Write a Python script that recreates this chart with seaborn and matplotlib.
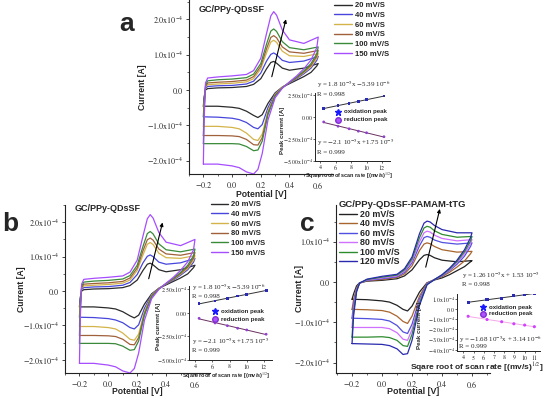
import numpy as np
import pandas as pd
import matplotlib
matplotlib.use('Agg')
import matplotlib.pyplot as plt
import seaborn as sns
from matplotlib.lines import Line2D

sns.set_theme(style='ticks')
plt.rcParams['font.family'] = ['Liberation Sans', 'DejaVu Sans']
plt.rcParams['mathtext.fontset'] = 'stix'

# ---------------- data (currents in units of 1e-4 A) ----------------
rates_ab = ['20 mV/S', '40 mV/S', '60 mV/S', '80 mV/S', '100 mV/S', '150 mV/S']
rates_c = ['20 mV/S', '40 mV/S', '60 mV/S', '80 mV/S', '100 mV/S', '120 mV/S']
colors_ab = ['#2b2b2b', '#4646dc', '#d4b44a', '#a0603a', '#3a8a3a', '#a64dff']
colors_c = ['#222222', '#a8652e', '#5050e0', '#d070ff', '#2e8b2e', '#2a2ab0']

E_fwd_ab = [-0.2, -0.195, -0.185, -0.17, -0.1, 0.0, 0.1, 0.15, 0.2, 0.24, 0.27, 0.29, 0.31, 0.35, 0.4, 0.5, 0.6]
E_rev_ab = [0.6, 0.59, 0.55, 0.5, 0.45, 0.4, 0.35, 0.3, 0.25, 0.21, 0.18, 0.15, 0.1, 0.05, 0.0, -0.1, -0.2]

ab_fwd_20 = [-0.46, -0.2, 0.0, 0.04, 0.06, 0.07, 0.1, 0.16, 0.32, 0.6, 0.78, 0.81, 0.76, 0.62, 0.56, 0.62, 0.75]
ab_rev_20 = [0.75, 0.68, 0.5, 0.38, 0.28, 0.18, 0.08, -0.08, -0.38, -0.7, -0.78, -0.72, -0.6, -0.52, -0.49, -0.46, -0.46]
ab_fwd_40 = [-0.76, -0.3, 0.05, 0.1, 0.12, 0.13, 0.17, 0.25, 0.48, 0.82, 1.01, 1.05, 1.0, 0.84, 0.78, 0.82, 0.95]
ab_rev_40 = [0.95, 0.84, 0.62, 0.46, 0.32, 0.2, 0.08, -0.1, -0.5, -0.98, -1.1, -1.06, -0.92, -0.84, -0.8, -0.77, -0.76]
ab_fwd_60 = [-1.03, -0.4, 0.08, 0.15, 0.17, 0.19, 0.23, 0.32, 0.6, 1.05, 1.36, 1.41, 1.35, 1.1, 0.97, 0.95, 1.03]
ab_rev_60 = [1.03, 0.9, 0.66, 0.49, 0.34, 0.21, 0.08, -0.12, -0.6, -1.25, -1.43, -1.4, -1.22, -1.1, -1.06, -1.03, -1.03]
ab_fwd_80 = [-1.29, -0.5, 0.1, 0.2, 0.22, 0.24, 0.28, 0.38, 0.67, 1.17, 1.49, 1.54, 1.48, 1.22, 1.08, 1.04, 1.12]
ab_rev_80 = [1.12, 0.96, 0.7, 0.51, 0.35, 0.21, 0.07, -0.14, -0.65, -1.35, -1.56, -1.55, -1.4, -1.32, -1.3, -1.29, -1.29]
ab_fwd_100 = [-1.52, -0.6, 0.14, 0.26, 0.29, 0.31, 0.35, 0.45, 0.75, 1.3, 1.67, 1.73, 1.66, 1.37, 1.2, 1.14, 1.22]
ab_rev_100 = [1.22, 1.03, 0.75, 0.54, 0.37, 0.22, 0.06, -0.17, -0.7, -1.45, -1.7, -1.72, -1.6, -1.53, -1.52, -1.52, -1.52]
ab_fwd_150 = [-2.1, -0.9, 0.2, 0.34, 0.37, 0.4, 0.44, 0.55, 0.9, 1.6, 2.1, 2.22, 2.12, 1.7, 1.42, 1.32, 1.5]
ab_rev_150 = [1.5, 1.2, 0.85, 0.6, 0.4, 0.23, 0.05, -0.22, -0.85, -1.8, -2.25, -2.38, -2.32, -2.2, -2.15, -2.1, -2.1]

E_fwd_c = [-0.2, -0.19, -0.17, -0.15, -0.1, 0.0, 0.1, 0.15, 0.2, 0.25, 0.28, 0.3, 0.32, 0.35, 0.4, 0.5, 0.6]
E_rev_c = [0.6, 0.59, 0.55, 0.5, 0.45, 0.4, 0.35, 0.3, 0.25, 0.2, 0.17, 0.14, 0.1, 0.05, 0.0, -0.1, -0.2]

c_fwd_20 = [-0.43, -0.3, -0.1, -0.02, 0.02, 0.04, 0.08, 0.15, 0.3, 0.55, 0.66, 0.68, 0.66, 0.6, 0.54, 0.5, 0.53]
c_rev_20 = [0.53, 0.5, 0.38, 0.28, 0.18, 0.1, 0.05, -0.02, -0.25, -0.6, -0.72, -0.68, -0.58, -0.5, -0.47, -0.44, -0.43]
c_fwd_40 = [-0.68, -0.45, -0.15, -0.03, 0.03, 0.06, 0.11, 0.2, 0.4, 0.78, 0.94, 0.97, 0.95, 0.88, 0.8, 0.74, 0.76]
c_rev_40 = [0.76, 0.7, 0.52, 0.37, 0.24, 0.13, 0.06, -0.03, -0.35, -0.85, -1.03, -0.98, -0.85, -0.75, -0.71, -0.69, -0.68]
c_fwd_60 = [-0.9, -0.55, -0.18, -0.03, 0.04, 0.08, 0.13, 0.24, 0.47, 0.9, 1.1, 1.13, 1.11, 1.04, 0.98, 0.94, 0.97]
c_rev_60 = [0.97, 0.88, 0.64, 0.44, 0.28, 0.15, 0.06, -0.04, -0.42, -1.05, -1.28, -1.24, -1.08, -0.97, -0.93, -0.91, -0.9]
c_fwd_80 = [-1.13, -0.65, -0.2, -0.03, 0.05, 0.1, 0.15, 0.27, 0.52, 1.0, 1.22, 1.26, 1.24, 1.16, 1.08, 1.02, 1.05]
c_rev_80 = [1.05, 0.95, 0.7, 0.48, 0.3, 0.16, 0.06, -0.05, -0.48, -1.18, -1.45, -1.42, -1.26, -1.16, -1.13, -1.13, -1.13]
c_fwd_100 = [-1.37, -0.75, -0.22, -0.03, 0.06, 0.12, 0.17, 0.3, 0.57, 1.1, 1.34, 1.38, 1.36, 1.27, 1.18, 1.11, 1.13]
c_rev_100 = [1.13, 1.02, 0.75, 0.51, 0.32, 0.17, 0.06, -0.06, -0.52, -1.3, -1.6, -1.58, -1.45, -1.38, -1.36, -1.37, -1.37]
c_fwd_120 = [-1.53, -0.85, -0.25, -0.03, 0.07, 0.14, 0.19, 0.33, 0.62, 1.2, 1.46, 1.51, 1.49, 1.4, 1.3, 1.22, 1.22]
c_rev_120 = [1.22, 1.1, 0.8, 0.54, 0.34, 0.18, 0.06, -0.07, -0.58, -1.45, -1.78, -1.8, -1.66, -1.58, -1.55, -1.54, -1.53]

# inset data: square root of scan rate vs peak current (1e-4 A)
sqrt_ab = [4.47, 6.32, 7.75, 8.94, 10.0, 12.25]
ox_ab = [0.97, 1.23, 1.46, 1.76, 1.94, 2.35]
red_ab = [-0.6, -1.09, -1.38, -1.65, -1.83, -2.28]
sqrt_c = [4.47, 6.32, 7.75, 8.94, 10.0, 10.95]
ox_c = [0.7, 0.92, 1.09, 1.31, 1.41, 1.57]
red_c = [-0.7, -1.02, -1.24, -1.44, -1.57, -1.73]

main_yticks_ab = [-2e-4, -1e-4, 0, 1e-4, 2e-4]
main_ylabels_ab = [r'$-2.0\mathrm{x}10^{-4}$', r'$-1.0\mathrm{x}10^{-4}$', r'$0.0$',
                   r'$1.0\mathrm{x}10^{-4}$', r'$2.0\mathrm{x}10^{-4}$']
main_yticks_c = [-2e-4, -1e-4, 0, 1e-4]
main_ylabels_c = [r'$-2.0\mathrm{x}10^{-4}$', r'$-1.0\mathrm{x}10^{-4}$', r'$0.0$', r'$1.0\mathrm{x}10^{-4}$']
main_xticks = [-0.2, 0.0, 0.2, 0.4, 0.6]
main_xlabels = [r'$-0.2$', r'$0.0$', r'$0.2$', r'$0.4$', r'$0.6$']
ins_yticks_ab = [-5e-4, -2.5e-4, 0, 2.5e-4]
ins_ylabels_ab = [r'$-5.00\mathrm{x}10^{-4}$', r'$-2.50\mathrm{x}10^{-4}$', r'$0.00$', r'$2.50\mathrm{x}10^{-4}$']
ins_yticks_c = [-4e-4, -3e-4, -2e-4, -1e-4, 0, 1e-4]
ins_ylabels_c = [r'$-4.0\mathrm{x}10^{-4}$', r'$-3.0\mathrm{x}10^{-4}$', r'$-2.0\mathrm{x}10^{-4}$',
                 r'$-1.0\mathrm{x}10^{-4}$', r'$0.0$', r'$1.0\mathrm{x}10^{-4}$']
inset_xlabel = r'Sqare root of scan rate [(mv/s)$^{1/2}$]'

# ---------------- helpers ----------------
W, H = 550, 396
fig = plt.figure(figsize=(5.5, 3.96), dpi=100)


def rect(x0, y0, x1, y1):
    return [x0 / W, 1 - y1 / H, (x1 - x0) / W, (y1 - y0) / H]


def fx(x):
    return x / W


def fy(y):
    return 1 - y / H


def cv_frame(labels, efwd, erev, fwds, revs):
    rows = []
    for lab, f, r in zip(labels, fwds, revs):
        E = list(efwd) + list(erev)
        I = [v * 1e-4 for v in list(f) + list(r)]
        for k, (e, i) in enumerate(zip(E, I)):
            rows.append((lab, k, e, i))
    return pd.DataFrame(rows, columns=['rate', 'step', 'E', 'I'])


serif = ['Liberation Serif', 'DejaVu Serif']


def style_main(ax, xlim, ylim, yticks, ylabels, lab_size, xlab_y, ylab_x):
    ax.set_xlim(*xlim)
    ax.set_ylim(*ylim)
    ax.set_xticks(main_xticks)
    ax.set_xticklabels(main_xlabels)
    ax.set_yticks(yticks)
    ax.set_yticklabels(ylabels)
    ax.set_xticks([-0.3, -0.1, 0.1, 0.3, 0.5, 0.7], minor=True)
    ax.set_yticks([v + 0.5e-4 for v in yticks], minor=True)
    ax.tick_params(axis='both', which='major', labelsize=5.8, length=2.5, width=0.6, pad=1.5, direction='out')
    ax.tick_params(axis='both', which='minor', length=1.5, width=0.5, direction='out')
    for s in ['top', 'right']:
        ax.spines[s].set_visible(False)
    for s in ['left', 'bottom']:
        ax.spines[s].set_linewidth(0.8)
        ax.spines[s].set_color('#222222')
    ax.set_facecolor('none')
    ax.set_xlabel('Potential [V]', fontsize=lab_size, fontweight='bold')
    ax.set_ylabel('Current [A]', fontsize=lab_size, fontweight='bold')
    ax.xaxis.set_label_coords(0.5, xlab_y)
    ax.yaxis.set_label_coords(ylab_x, 0.5)


def style_inset(ax, xlim, ylim, xticks, yticks, ylabels, xlab_y, ylab_x, show_xlabel=True):
    ax.set_xlim(*xlim)
    ax.set_ylim(*ylim)
    ax.set_xticks(xticks)
    ax.set_xticklabels([f'${t}$' for t in xticks])
    ax.set_yticks(yticks)
    ax.set_yticklabels(ylabels)
    ax.tick_params(axis='both', which='major', labelsize=4.2, length=1.2, width=0.5, pad=0.4, direction='out')
    for s in ['top', 'right']:
        ax.spines[s].set_visible(False)
    for s in ['left', 'bottom']:
        ax.spines[s].set_linewidth(0.7)
        ax.spines[s].set_color('#222222')
    ax.set_facecolor('none')
    if show_xlabel:
        ax.set_xlabel(inset_xlabel, fontsize=4.0, fontweight='bold')
        ax.xaxis.set_label_coords(0.45, xlab_y)
    ax.set_ylabel('Peak current [A]', fontsize=4.4, fontweight='bold')
    ax.yaxis.set_label_coords(ylab_x, 0.45)


def draw_inset(ax, xs, ox, red, ox_line, red_line, red_col, msize):
    dfi = pd.DataFrame({'x': xs, 'ox': [v * 1e-4 for v in ox], 'red': [v * 1e-4 for v in red]})
    sns.regplot(data=dfi, x='x', y='ox', ax=ax, ci=None, scatter=False, truncate=True,
                line_kws=dict(color=ox_line, lw=0.7))
    sns.regplot(data=dfi, x='x', y='red', ax=ax, ci=None, scatter=False, truncate=True,
                line_kws=dict(color=red_line, lw=0.7))
    sns.scatterplot(data=dfi, x='x', y='ox', ax=ax, marker='s', s=msize, color='#2a2ab8', edgecolor='none', zorder=3)
    sns.scatterplot(data=dfi, x='x', y='red', ax=ax, marker='o', s=msize, color=red_col, edgecolor='none', zorder=3)
    ax.set_xlabel('')
    ax.set_ylabel('')


def inset_legend(x, y1, y2, fs, ms):
    fig.add_artist(Line2D([fx(x)], [fy(y1)], marker='*', color='#1a1aff', markersize=ms, transform=fig.transFigure))
    fig.add_artist(Line2D([fx(x)], [fy(y2)], marker='o', color='#b050ff', markersize=ms * 0.8,
                          markeredgecolor='#8030d0', transform=fig.transFigure))
    fig.text(fx(x + 6), fy(y1), 'oxidation peak', fontsize=fs, fontweight='bold', va='center')
    fig.text(fx(x + 6), fy(y2), 'reduction peak', fontsize=fs, fontweight='bold', va='center')


def main_legend(labels, colors, x, y, fs, spacing, hl):
    handles = [Line2D([], [], color=c, lw=1.0) for c in colors]
    fig.legend(handles, labels, loc='upper left', bbox_to_anchor=(fx(x), fy(y)), frameon=False,
               prop=dict(weight='bold', size=fs), handlelength=hl, handletextpad=0.4,
               labelspacing=spacing, borderpad=0, borderaxespad=0)


df_ab = cv_frame(rates_ab, E_fwd_ab, E_rev_ab,
                 [ab_fwd_20, ab_fwd_40, ab_fwd_60, ab_fwd_80, ab_fwd_100, ab_fwd_150],
                 [ab_rev_20, ab_rev_40, ab_rev_60, ab_rev_80, ab_rev_100, ab_rev_150])
df_c = cv_frame(rates_c, E_fwd_c, E_rev_c,
                [c_fwd_20, c_fwd_40, c_fwd_60, c_fwd_80, c_fwd_100, c_fwd_120],
                [c_rev_20, c_rev_40, c_rev_60, c_rev_80, c_rev_100, c_rev_120])

# ---------------- panel a ----------------
axa = fig.add_axes(rect(189, 0, 333, 174))
sns.lineplot(data=df_ab, x='E', y='I', hue='rate', palette=colors_ab, sort=False, estimator=None,
             ax=axa, lw=0.9, legend=False)
style_main(axa, (-0.29, 0.703), (-2.38e-4, 2.55e-4), main_yticks_ab, main_ylabels_ab, 6.2, -0.09, -0.29)
axa.annotate('', xy=(0.38, 2.08e-4), xytext=(0.272, 0.3e-4),
             arrowprops=dict(arrowstyle='-|>', color='black', lw=0.8, mutation_scale=5))
fig.text(fx(199), fy(10), 'GC/PPy-QDsSF', fontsize=6.5, fontweight='bold', va='center')
main_legend(rates_ab, colors_ab, 334, 2, 5.5, 0.3, 2.4)
fig.text(fx(119), fy(31), 'a', fontsize=19, fontweight='bold')

ia = fig.add_axes(rect(315, 93, 390, 161))
draw_inset(ia, sqrt_ab, ox_ab, red_ab, '#333333', '#6a3060', '#9040d0', 4)
style_inset(ia, (3.35, 13.03), (-5.04e-4, 2.69e-4), [4, 6, 8, 10, 12], ins_yticks_ab, ins_ylabels_ab,
            -0.14, -0.4)
fig.text(fx(317), fy(85), r'y = 1.8 10$^{-5}$x $-$5.39 10$^{-6}$', fontsize=5, family=serif, va='center')
fig.text(fx(317), fy(94), 'R = 0.998', fontsize=5, family=serif, va='center')
fig.text(fx(317), fy(143), r'y = $-$2.1 10$^{-5}$x +1.75 10$^{-5}$', fontsize=5, family=serif, va='center')
fig.text(fx(317), fy(152), 'R = 0.999', fontsize=5, family=serif, va='center')
inset_legend(338, 112, 120, 4.4, 5)

# ---------------- panel b ----------------
axb = fig.add_axes(rect(65, 205, 210, 373))
sns.lineplot(data=df_ab, x='E', y='I', hue='rate', palette=colors_ab, sort=False, estimator=None,
             ax=axb, lw=0.9, legend=False)
style_main(axb, (-0.289, 0.704), (-2.38e-4, 2.39e-4), main_yticks_ab, main_ylabels_ab, 6.2, -0.085, -0.27)
axb.annotate('', xy=(0.38, 2.07e-4), xytext=(0.275, 0.28e-4),
             arrowprops=dict(arrowstyle='-|>', color='black', lw=0.8, mutation_scale=5))
fig.text(fx(75), fy(208), 'GC/PPy-QDsSF', fontsize=6.5, fontweight='bold', va='center')
main_legend(rates_ab, colors_ab, 211, 201, 5.5, 0.3, 2.2)
fig.text(fx(2), fy(231), 'b', fontsize=19, fontweight='bold')

ib = fig.add_axes(rect(189, 286, 272, 360))
draw_inset(ib, sqrt_ab, ox_ab, red_ab, '#333333', '#6a3060', '#9040d0', 4)
style_inset(ib, (3.3, 12.93), (-5.0e-4, 2.81e-4), [4, 6, 8, 10, 12], ins_yticks_ab, ins_ylabels_ab,
            -0.13, -0.34)
fig.text(fx(192), fy(288), r'y = 1.8 10$^{-5}$x $-$5.39 10$^{-6}$', fontsize=5, family=serif, va='center')
fig.text(fx(192), fy(296), 'R = 0.998', fontsize=5, family=serif, va='center')
fig.text(fx(192), fy(342), r'y = $-$2.1 10$^{-5}$x +1.75 10$^{-5}$', fontsize=5, family=serif, va='center')
fig.text(fx(192), fy(350), 'R = 0.999', fontsize=5, family=serif, va='center')
inset_legend(215, 311, 319, 4.4, 5)

# ---------------- panel c ----------------
axc = fig.add_axes(rect(336, 205, 490, 373))
sns.lineplot(data=df_c, x='E', y='I', hue='rate', palette=colors_c, sort=False, estimator=None,
             ax=axc, lw=0.9, legend=False)
style_main(axc, (-0.307, 0.72), (-2.26e-4, 1.91e-4), main_yticks_c, main_ylabels_c, 6.4, -0.085, -0.21)
axc.annotate('', xy=(0.39, 1.88e-4), xytext=(0.287, 0.3e-4),
             arrowprops=dict(arrowstyle='-|>', color='black', lw=0.8, mutation_scale=5))
fig.text(fx(339), fy(205), 'GC/PPy-QDsSF-PAMAM-tTG', fontsize=6.8, fontweight='bold', va='center')
main_legend(rates_c, colors_c, 339, 210, 6.4, 0.05, 2.0)
fig.text(fx(300), fy(231), 'c', fontsize=19, fontweight='bold')

ic = fig.add_axes(rect(457, 294, 540, 351))
draw_inset(ic, sqrt_c, ox_c, red_c, '#333333', '#f4a8e8', '#d040ff', 5)
style_inset(ic, (3.38, 11.5), (-4.13e-4, 1.5e-4), [4, 5, 6, 7, 8, 9, 10, 11], ins_yticks_c, ins_ylabels_c,
            -0.1, -0.42, show_xlabel=False)
fig.text(fx(477), fy(368), inset_xlabel, fontsize=6.0, fontweight='bold', ha='center', va='center')
fig.text(fx(462), fy(276), r'y = 1.26 10$^{-5}$x + 1.53 10$^{-5}$', fontsize=5, family=serif, va='center')
fig.text(fx(462), fy(284), 'R = 0.998', fontsize=5, family=serif, va='center')
fig.text(fx(459), fy(340), r'y = $-$1.68 10$^{-5}$x + 3.14 10$^{-6}$', fontsize=5, family=serif, va='center')
fig.text(fx(459), fy(347), 'R = 0.999', fontsize=5, family=serif, va='center')
inset_legend(483, 307, 314, 4.4, 5)

fig.savefig('out.png', dpi=100)
